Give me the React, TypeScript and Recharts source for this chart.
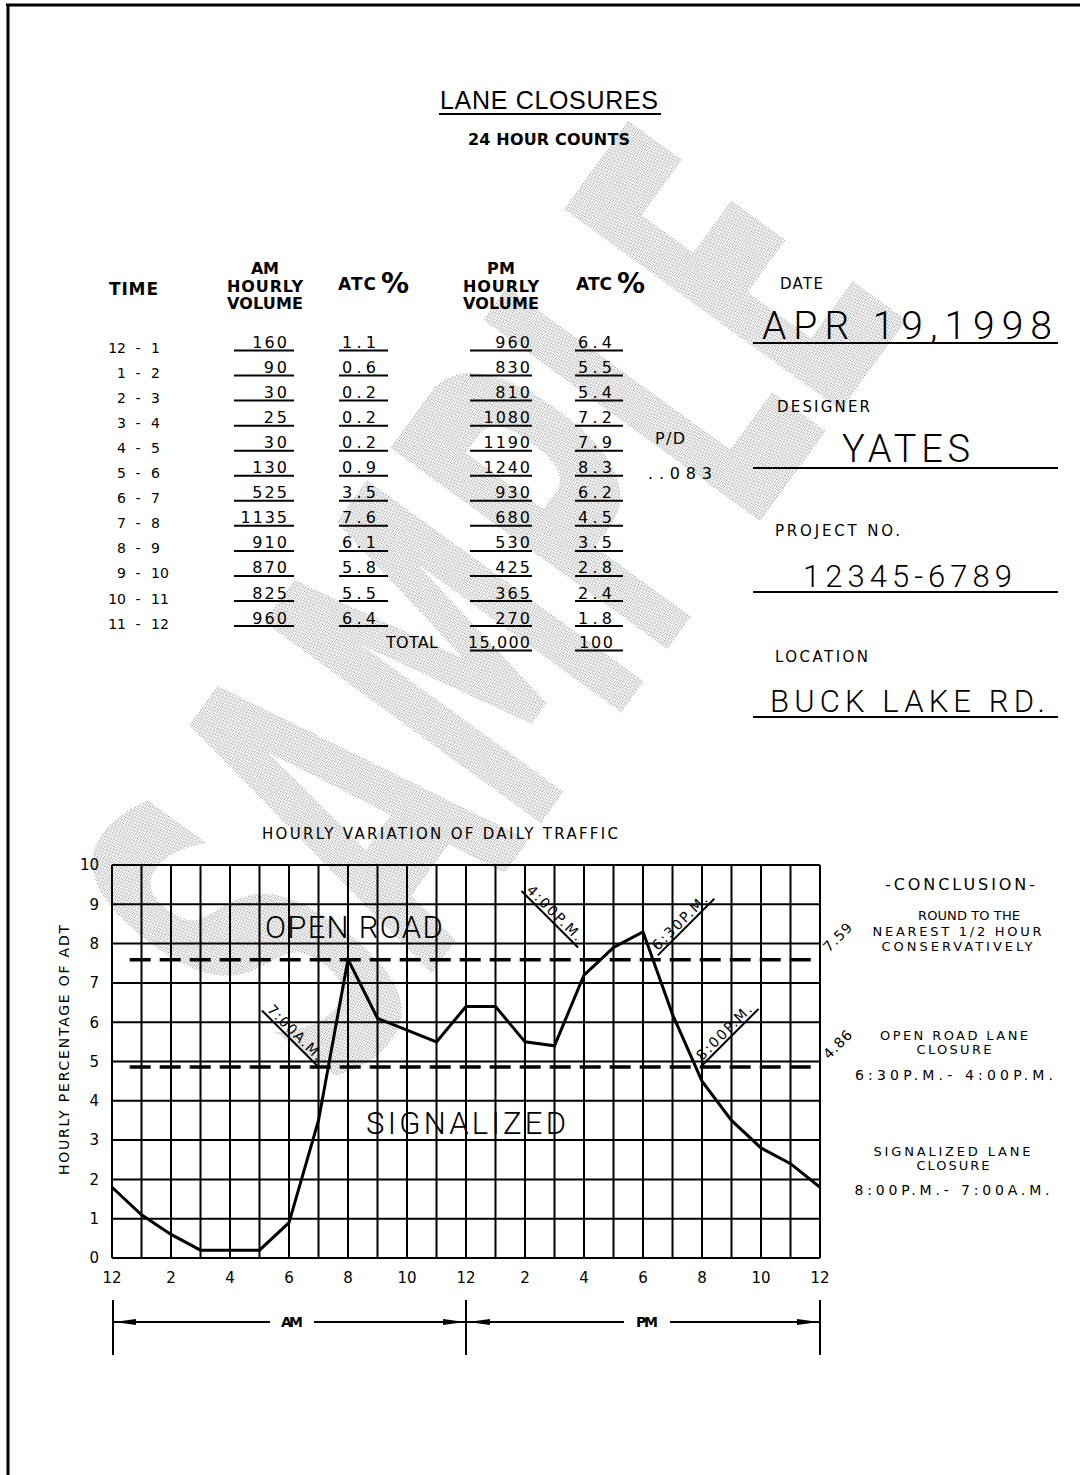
import React from "react";
import {
    LineChart,
    Line,
    XAxis,
    YAxis,
    CartesianGrid,
    ReferenceLine,
    ReferenceDot,
} from "recharts";

// table data (24 hour counts)
const timeFrom = ["12", "1", "2", "3", "4", "5", "6", "7", "8", "9", "10", "11"];
const timeTo = ["1", "2", "3", "4", "5", "6", "7", "8", "9", "10", "11", "12"];
const amVolume = [160, 90, 30, 25, 30, 130, 525, 1135, 910, 870, 825, 960];
const amPct = [1.1, 0.6, 0.2, 0.2, 0.2, 0.9, 3.5, 7.6, 6.1, 5.8, 5.5, 6.4];
const pmVolume = [960, 830, 810, 1080, 1190, 1240, 930, 680, 530, 425, 365, 270];
const pmPct = [6.4, 5.5, 5.4, 7.2, 7.9, 8.3, 6.2, 4.5, 3.5, 2.8, 2.4, 1.8];

// chart axes
const hourTicks = [0, 1, 2, 3, 4, 5, 6, 7, 8, 9, 10, 11, 12, 13, 14, 15, 16, 17, 18, 19, 20, 21, 22, 23, 24];
const pctTicks = [0, 1, 2, 3, 4, 5, 6, 7, 8, 9, 10];

// thresholds and callouts
const openRoadLimit = 7.59;
const signalLimit = 4.86;
const callouts = [
    { hour: 7, pct: 4.86, text: "7:00A.M.", up: false },
    { hour: 15.8, pct: 7.9, text: "4:00P.M.", up: false },
    { hour: 18.5, pct: 7.7, text: "6:30P.M.", up: true },
    { hour: 20, pct: 4.9, text: "8:00P.M.", up: true },
];

const CAD = "'DejaVu Sans', 'Liberation Sans', sans-serif";
const HAND = "Roboto, 'Open Sans', sans-serif";

// line points: value of each hour plotted at the end of that hour, midnight wraps
const chartData = [
    { hour: 0, pct: pmPct[11] },
    ...amPct.map((v, i) => ({ hour: i + 1, pct: v })),
    ...pmPct.map((v, i) => ({ hour: i + 13, pct: v })),
];

const totalVolume = [...amVolume, ...pmVolume].reduce((a, b) => a + b, 0);
const totalPct = Math.round([...amPct, ...pmPct].reduce((a, b) => a + b, 0));

const hourLabel = (h: number) => (h % 2 === 1 ? "" : String(h % 12 === 0 ? 12 : h % 12));

const Callout = ({ cx, cy, text, up }: any) => {
    const len = 80;
    return (
        <g transform={`translate(${cx},${cy}) rotate(${up ? -45 : 45})`}>
            <line x1={up ? 0 : -len} y1={0} x2={up ? len : 0} y2={0} stroke="#000" strokeWidth={2} />
            <text
                x={up ? 3 : -len + 3}
                y={-3}
                textLength={len - 8}
                lengthAdjust="spacing"
                fontFamily={CAD}
                fontSize={14}
                fill="#000"
            >
                {text}
            </text>
        </g>
    );
};

const LimitLabel = ({ cx, cy, text }: any) => (
    <text
        transform={`translate(${cx + 9},${cy - 7}) rotate(-45)`}
        textLength={34}
        fontFamily={CAD}
        fontSize={14}
        fill="#000"
    >
        {text}
    </text>
);

const ZoneLabel = ({ cx, cy, text, width }: any) => (
    <text
        x={cx}
        y={cy}
        textAnchor="middle"
        textLength={width}
        lengthAdjust="spacing"
        fontFamily={HAND}
        fontWeight={300}
        fontSize={31}
        fill="#000"
    >
        {text}
    </text>
);

const T = ({ x, y, children, size = 15, anchor = "start", bold = false, len, family = CAD, weight }: any) => (
    <text
        x={x}
        y={y}
        fontSize={size}
        textAnchor={anchor}
        fontFamily={family}
        fontWeight={weight ?? (bold ? "bold" : "normal")}
        textLength={len}
        lengthAdjust={len ? "spacing" : undefined}
        fill="#000"
    >
        {children}
    </text>
);

const Arrow = ({ x, y, dir }: any) => (
    <polygon points={`${x},${y} ${x - dir * 22},${y - 3} ${x - dir * 22},${y + 3}`} fill="#000" />
);

const Sheet = () => {
    const rowY = (i: number) => 348 + 25.05 * i;
    return (
        <svg width={1080} height={1475} style={{ position: "absolute", left: 0, top: 0 }}>
            <defs>
                <pattern id="stipple" width="2" height="2" patternUnits="userSpaceOnUse">
                    <rect width="1" height="1" fill="#8a8a8a" />
                </pattern>
            </defs>
            {/* watermark */}
            <text
                transform="translate(340,1100) rotate(-54)"
                fontFamily={CAD}
                fontWeight="bold"
                fontSize={470}
                textLength={980}
                lengthAdjust="spacingAndGlyphs"
                fill="url(#stipple)"
            >
                SAMPLE
            </text>

            {/* sheet border */}
            <line x1={6} y1={5} x2={1080} y2={5} stroke="#000" strokeWidth={3} />
            <line x1={8} y1={4} x2={8} y2={1475} stroke="#000" strokeWidth={3} />

            {/* title */}
            <T x={440} y={109} size={25} len={218} family="'Liberation Sans', Arial, sans-serif">LANE CLOSURES</T>
            <line x1={439} y1={114} x2={661} y2={114} stroke="#000" strokeWidth={2} />
            <T x={549} y={145} size={16} bold anchor="middle" len={162}>24 HOUR COUNTS</T>

            {/* table header */}
            <T x={109} y={295} size={17} bold len={49}>TIME</T>
            <T x={265} y={274} size={16} bold anchor="middle" len={28}>AM</T>
            <T x={265} y={292} size={16} bold anchor="middle" len={76}>HOURLY</T>
            <T x={265} y={309} size={16} bold anchor="middle" len={76}>VOLUME</T>
            <T x={338} y={290} size={17} bold len={38}>ATC</T>
            <T x={381} y={293} size={28} bold>%</T>
            <T x={501} y={274} size={16} bold anchor="middle" len={28}>PM</T>
            <T x={501} y={292} size={16} bold anchor="middle" len={76}>HOURLY</T>
            <T x={501} y={309} size={16} bold anchor="middle" len={76}>VOLUME</T>
            <T x={576} y={290} size={17} bold len={36}>ATC</T>
            <T x={617} y={293} size={28} bold>%</T>

            {/* table rows */}
            {amVolume.map((v, i) => {
                const y = rowY(i);
                const am = String(v);
                const pm = String(pmVolume[i]);
                return (
                    <g key={i}>
                        <T x={126} y={y + 5} size={14} anchor="end">{timeFrom[i]}</T>
                        <T x={138} y={y + 5} size={14} anchor="middle">-</T>
                        <T x={151} y={y + 5} size={14}>{timeTo[i]}</T>
                        <T x={287} y={y} size={16} anchor="end" len={am.length * 11.6}>{am}</T>
                        <line x1={234} y1={y + 2.5} x2={294} y2={y + 2.5} stroke="#000" strokeWidth={2} />
                        <T x={342} y={y} size={16} len={34}>{amPct[i].toFixed(1)}</T>
                        <line x1={339} y1={y + 2.5} x2={388} y2={y + 2.5} stroke="#000" strokeWidth={2} />
                        <T x={530} y={y} size={16} anchor="end" len={pm.length * 11.6}>{pm}</T>
                        <line x1={470} y1={y + 2.5} x2={532} y2={y + 2.5} stroke="#000" strokeWidth={2} />
                        <T x={578} y={y} size={16} len={34}>{pmPct[i].toFixed(1)}</T>
                        <line x1={575} y1={y + 2.5} x2={623} y2={y + 2.5} stroke="#000" strokeWidth={2} />
                    </g>
                );
            })}
            <T x={386} y={rowY(12) - 1} size={16} len={52}>TOTAL</T>
            <T x={530} y={rowY(12) - 1} size={16} anchor="end" len={62}>{totalVolume.toLocaleString("en-US")}</T>
            <line x1={470} y1={rowY(12) + 2} x2={532} y2={rowY(12) + 2} stroke="#000" strokeWidth={2} />
            <T x={579} y={rowY(12) - 1} size={16} len={34}>{String(totalPct)}</T>
            <line x1={575} y1={rowY(12) + 2} x2={623} y2={rowY(12) + 2} stroke="#000" strokeWidth={2} />
            <T x={655} y={444} size={16} len={30}>P/D</T>
            <T x={648} y={479} size={16} len={64}>..083</T>

            {/* project block */}
            <T x={780} y={289} size={15} len={43}>DATE</T>
            <T x={762} y={339} size={39} family={HAND} weight={300} len={290}>APR 19,1998</T>
            <line x1={753} y1={343} x2={1058} y2={343} stroke="#000" strokeWidth={2} />
            <T x={777} y={412} size={15} len={93}>DESIGNER</T>
            <T x={842} y={462} size={38} family={HAND} weight={300} len={128}>YATES</T>
            <line x1={753} y1={468} x2={1058} y2={468} stroke="#000" strokeWidth={2} />
            <T x={775} y={536} size={15} len={125}>PROJECT NO.</T>
            <T x={803} y={587} size={31} family={HAND} weight={300} len={209}>12345-6789</T>
            <line x1={753} y1={592} x2={1058} y2={592} stroke="#000" strokeWidth={2} />
            <T x={775} y={662} size={15} len={93}>LOCATION</T>
            <T x={770} y={712} size={31} family={HAND} weight={300} len={275}>BUCK LAKE RD.</T>
            <line x1={753} y1={717} x2={1058} y2={717} stroke="#000" strokeWidth={2} />

            {/* chart captions */}
            <T x={440} y={839} size={15} anchor="middle" len={356}>HOURLY VARIATION OF DAILY TRAFFIC</T>
            <text
                transform="translate(69,1050) rotate(-90)"
                textAnchor="middle"
                fontFamily={CAD}
                fontSize={14}
                textLength={250}
                fill="#000"
            >
                HOURLY PERCENTAGE OF ADT
            </text>

            {/* conclusion */}
            <T x={960} y={890} size={16} anchor="middle" len={150}>-CONCLUSION-</T>
            <T x={969} y={920} size={13} anchor="middle" len={102}>ROUND TO THE</T>
            <T x={957} y={936} size={13} anchor="middle" len={169}>NEAREST 1/2 HOUR</T>
            <T x={957} y={951} size={13} anchor="middle" len={151}>CONSERVATIVELY</T>
            <T x={954} y={1040} size={13} anchor="middle" len={148}>OPEN ROAD LANE</T>
            <T x={954} y={1054} size={13} anchor="middle" len={75}>CLOSURE</T>
            <T x={954} y={1080} size={14} anchor="middle" len={198}>6:30P.M.- 4:00P.M.</T>
            <T x={952} y={1156} size={13} anchor="middle" len={157}>SIGNALIZED LANE</T>
            <T x={953} y={1170} size={13} anchor="middle" len={73}>CLOSURE</T>
            <T x={952} y={1195} size={14} anchor="middle" len={195}>8:00P.M.- 7:00A.M.</T>

            {/* AM / PM dimension */}
            {[113, 466, 820].map((x) => (
                <line key={x} x1={x} y1={1300} x2={x} y2={1355} stroke="#000" strokeWidth={2} />
            ))}
            <line x1={113} y1={1322} x2={270} y2={1322} stroke="#000" strokeWidth={2} />
            <line x1={314} y1={1322} x2={466} y2={1322} stroke="#000" strokeWidth={2} />
            <line x1={466} y1={1322} x2={624} y2={1322} stroke="#000" strokeWidth={2} />
            <line x1={670} y1={1322} x2={820} y2={1322} stroke="#000" strokeWidth={2} />
            <Arrow x={114} y={1322} dir={-1} />
            <Arrow x={465} y={1322} dir={1} />
            <Arrow x={468} y={1322} dir={-1} />
            <Arrow x={819} y={1322} dir={1} />
            <T x={292} y={1327} size={14} bold anchor="middle" len={22}>AM</T>
            <T x={647} y={1327} size={14} bold anchor="middle" len={22}>PM</T>
        </svg>
    );
};

export default function App() {
    return (
        <div
            style={{
                position: "absolute",
                left: 0,
                top: 0,
                width: 1080,
                height: 1475,
                background: "#fff",
                overflow: "hidden",
            }}
        >
            <Sheet />
            <div style={{ position: "absolute", left: 0, top: 800 }}>
                <LineChart
                    width={1080}
                    height={600}
                    data={chartData}
                    margin={{ top: 65, right: 260, left: 72, bottom: 112 }}
                >
                    <CartesianGrid stroke="#000" strokeWidth={2} />
                    <XAxis
                        type="number"
                        dataKey="hour"
                        domain={[0, 24]}
                        ticks={hourTicks}
                        interval={0}
                        tickFormatter={hourLabel}
                        height={30}
                        tickLine={false}
                        tickSize={0}
                        tickMargin={14}
                        axisLine={{ stroke: "#000", strokeWidth: 2 }}
                        tick={{ fill: "#000", fontSize: 15, fontFamily: CAD }}
                    />
                    <YAxis
                        type="number"
                        domain={[0, 10]}
                        ticks={pctTicks}
                        interval={0}
                        width={40}
                        tickLine={false}
                        tickSize={0}
                        tickMargin={13}
                        axisLine={{ stroke: "#000", strokeWidth: 2 }}
                        tick={{ fill: "#000", fontSize: 15, fontFamily: CAD }}
                    />
                    <ReferenceLine
                        segment={[{ x: 0.6, y: openRoadLimit }, { x: 24, y: openRoadLimit }]}
                        stroke="#000"
                        strokeWidth={3.5}
                        strokeDasharray="21 9"
                    />
                    <ReferenceLine
                        segment={[{ x: 0.6, y: signalLimit }, { x: 24, y: signalLimit }]}
                        stroke="#000"
                        strokeWidth={3.5}
                        strokeDasharray="21 9"
                    />
                    <Line
                        type="linear"
                        dataKey="pct"
                        stroke="#000"
                        strokeWidth={3}
                        dot={false}
                        activeDot={false}
                        isAnimationActive={false}
                    />
                    <ReferenceDot x={24} y={openRoadLimit} r={1} ifOverflow="visible"
                        shape={(p: any) => <LimitLabel cx={p.cx} cy={p.cy} text={String(openRoadLimit)} />} />
                    <ReferenceDot x={24} y={signalLimit} r={1} ifOverflow="visible"
                        shape={(p: any) => <LimitLabel cx={p.cx} cy={p.cy} text={String(signalLimit)} />} />
                    {callouts.map((c) => (
                        <ReferenceDot key={c.text} x={c.hour} y={c.pct} r={1}
                            shape={(p: any) => <Callout cx={p.cx} cy={p.cy} text={c.text} up={c.up} />} />
                    ))}
                    <ReferenceDot x={8.2} y={8.14} r={1}
                        shape={(p: any) => <ZoneLabel cx={p.cx} cy={p.cy} text="OPEN ROAD" width={178} />} />
                    <ReferenceDot x={12} y={3.16} r={1}
                        shape={(p: any) => <ZoneLabel cx={p.cx} cy={p.cy} text="SIGNALIZED" width={200} />} />
                </LineChart>
            </div>
        </div>
    );
}
